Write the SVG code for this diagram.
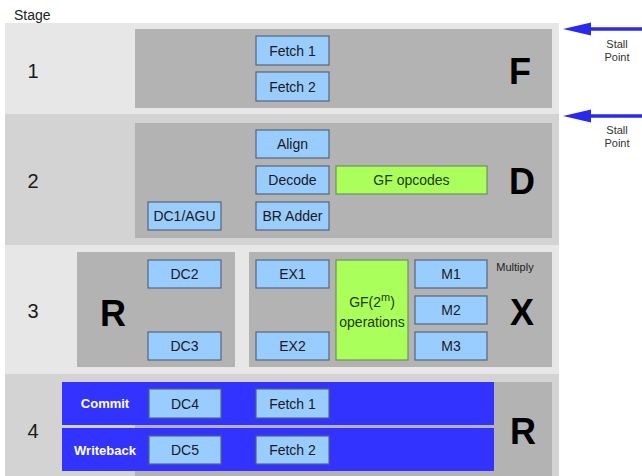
<svg xmlns="http://www.w3.org/2000/svg" width="642" height="476" viewBox="0 0 642 476">
  <style>
    text { font-family: "Liberation Sans", Arial, sans-serif; }
    .rowA { fill: #e7e7e7; }
    .rowB { fill: #d3d3d3; }
    .panel { fill: #b3b3b3; }
    .unit rect { fill: #99ccff; stroke: #52667a; stroke-width: 1.2; }
    .unit text { font-size: 14px; fill: #1a1a1a; text-anchor: middle; dominant-baseline: central; }
    .gf rect { fill: #aaff5a; stroke: #6f8f5a; stroke-width: 1.2; }
    .gf text { font-size: 14px; fill: #1f3a10; text-anchor: middle; dominant-baseline: central; }
    .num { font-size: 20px; fill: #1a1a1a; text-anchor: middle; dominant-baseline: central; }
    .big { font-size: 36px; font-weight: bold; fill: #000; text-anchor: middle; dominant-baseline: central; }
    .band { fill: #3333ff; }
    .bandtxt { font-size: 13px; font-weight: bold; fill: #ffffff; text-anchor: middle; dominant-baseline: central; }
    .small { font-size: 11px; fill: #333; text-anchor: middle; }
    .stall { stroke: #2a2aee; stroke-width: 3.6; }
    .stallhead { fill: #2a2aee; }
  </style>

  <rect width="642" height="476" fill="#ffffff"/>
  <text x="14" y="20" font-size="14" fill="#222">Stage</text>

  <!-- Stage rows -->
  <g id="row1">
    <rect class="rowA" x="5" y="23" width="554" height="91"/>
    <rect class="panel" x="135" y="29" width="417" height="79"/>
    <text class="num" x="33" y="71">1</text>
    <text class="big" x="520" y="71">F</text>
  </g>
  <g id="row2">
    <rect class="rowB" x="5" y="114" width="554" height="131"/>
    <rect class="panel" x="135" y="123" width="417" height="115"/>
    <text class="num" x="33" y="181">2</text>
    <text class="big" x="522" y="181">D</text>
  </g>
  <g id="row3">
    <rect class="rowA" x="5" y="245" width="554" height="129"/>
    <rect class="panel" x="77" y="252" width="158" height="115"/>
    <rect class="panel" x="249" y="252" width="303" height="115"/>
    <text class="num" x="33" y="311">3</text>
    <text class="big" x="113" y="313">R</text>
    <text class="big" x="522" y="312">X</text>
    <text x="515" y="271" font-size="11" fill="#222" text-anchor="middle">Multiply</text>
  </g>
  <g id="row4">
    <rect class="rowB" x="5" y="374" width="554" height="102"/>
    <rect class="panel" x="135" y="382" width="417" height="94"/>
    <rect class="band" x="62" y="382" width="432" height="43"/>
    <rect class="band" x="62" y="428" width="432" height="43"/>
    <text class="num" x="33" y="431">4</text>
    <text class="big" x="523" y="431">R</text>
    <text class="bandtxt" x="105" y="403">Commit</text>
    <text class="bandtxt" x="105" y="450">Writeback</text>
  </g>

  <!-- Units -->
  <g id="fetch1" class="unit"><rect x="256" y="36" width="73" height="29"/><text x="292.5" y="50.5">Fetch 1</text></g>
  <g id="fetch2" class="unit"><rect x="256" y="72" width="73" height="29"/><text x="292.5" y="86.5">Fetch 2</text></g>

  <g id="align" class="unit"><rect x="256" y="130" width="73" height="28"/><text x="292.5" y="144">Align</text></g>
  <g id="decode" class="unit"><rect x="256" y="166" width="73" height="28"/><text x="292.5" y="180">Decode</text></g>
  <g id="bradder" class="unit"><rect x="256" y="202" width="73" height="28"/><text x="292.5" y="216">BR Adder</text></g>
  <g id="dc1agu" class="unit"><rect x="148" y="202" width="73" height="28"/><text x="184.5" y="216">DC1/AGU</text></g>
  <g id="gfopcodes" class="gf"><rect x="336" y="166" width="151" height="28"/><text x="411.5" y="180">GF opcodes</text></g>

  <g id="dc2" class="unit"><rect x="148" y="260" width="73" height="28"/><text x="184.5" y="274">DC2</text></g>
  <g id="dc3" class="unit"><rect x="148" y="332" width="73" height="28"/><text x="184.5" y="346">DC3</text></g>
  <g id="ex1" class="unit"><rect x="256" y="260" width="73" height="28"/><text x="292.5" y="274">EX1</text></g>
  <g id="ex2" class="unit"><rect x="256" y="332" width="73" height="28"/><text x="292.5" y="346">EX2</text></g>
  <g id="gfops" class="gf">
    <rect x="336" y="260" width="72" height="100"/>
    <text x="372" y="302">GF(2<tspan font-size="11" dy="-5">m</tspan><tspan dy="5">)</tspan></text>
    <text x="372" y="322">operations</text>
  </g>
  <g id="m1" class="unit"><rect x="415" y="260" width="72" height="28"/><text x="451" y="274">M1</text></g>
  <g id="m2" class="unit"><rect x="415" y="296" width="72" height="28"/><text x="451" y="310">M2</text></g>
  <g id="m3" class="unit"><rect x="415" y="332" width="72" height="28"/><text x="451" y="346">M3</text></g>

  <g id="dc4" class="unit"><rect x="149" y="389" width="72" height="29"/><text x="185" y="403.5">DC4</text></g>
  <g id="dc5" class="unit"><rect x="149" y="436" width="72" height="28"/><text x="185" y="450">DC5</text></g>
  <g id="fetch1b" class="unit"><rect x="256" y="389" width="73" height="29"/><text x="292.5" y="403.5">Fetch 1</text></g>
  <g id="fetch2b" class="unit"><rect x="256" y="436" width="73" height="28"/><text x="292.5" y="450">Fetch 2</text></g>

  <!-- Stall point arrows -->
  <g id="connectors">
    <line class="stall" x1="642" y1="29" x2="590" y2="29"/>
    <path class="stallhead" d="M563,29 L591,22.5 L591,35.5 Z"/>
    <line class="stall" x1="642" y1="116" x2="590" y2="116"/>
    <path class="stallhead" d="M563,116 L591,109.5 L591,122.5 Z"/>
  </g>
  <g id="stall1">
    <text class="small" x="617" y="48">Stall</text>
    <text class="small" x="617" y="61">Point</text>
  </g>
  <g id="stall2">
    <text class="small" x="617" y="134">Stall</text>
    <text class="small" x="617" y="147">Point</text>
  </g>
</svg>
